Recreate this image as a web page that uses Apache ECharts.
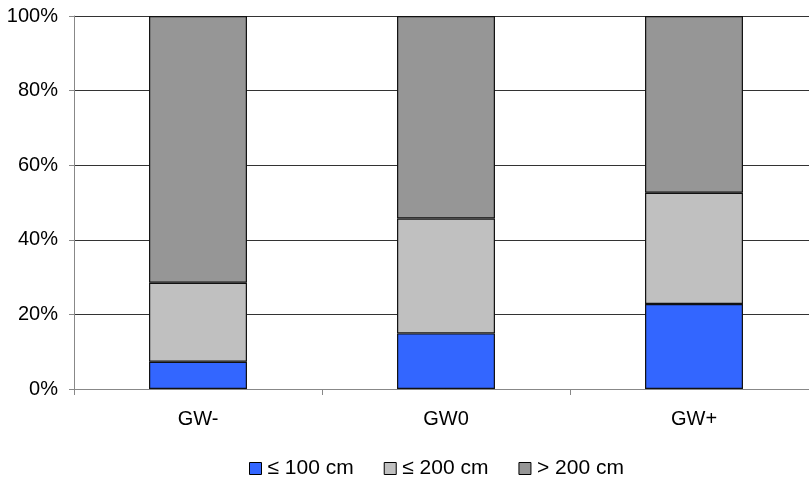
<!DOCTYPE html>
<html><head><meta charset="utf-8">
<script src="https://cdn.jsdelivr.net/npm/echarts@6/dist/echarts.min.js"></script>
<style>html,body{margin:0;padding:0;background:#fff;overflow:hidden;width:809px;height:478px}#c{width:818px;height:478px}</style>
</head><body><div id="c"></div>
<script>
const categories = ['GW-', 'GW0', 'GW+'];
const seriesNames = ['≤ 100 cm', '≤ 200 cm', '> 200 cm'];
const le100 = [7.3, 14.9, 22.8];
const le200 = [21.2, 30.8, 29.8];
const gt200 = [71.5, 54.3, 47.4];
const yTicks = [0, 20, 40, 60, 80, 100];
const colors = ['#3366FF', '#C0C0C0', '#969696'];

const chart = echarts.init(document.getElementById('c'), null, {renderer: 'canvas'});
const font = 'Liberation Sans, Arial, sans-serif';
const mk = (name, data, color) => ({
  name, type: 'bar', stack: 'total', data, barWidth: '39.5%',
  itemStyle: {color, borderColor: '#111', borderWidth: 1.2},
  emphasis: {disabled: true}
});
chart.setOption({
  animation: false,
  grid: {left: 74, right: 0, top: 16, height: 373, containLabel: false},
  legend: {
    left: 244, top: 453, itemWidth: 12, itemHeight: 12, itemGap: 30,
    icon: 'rect',
    textStyle: {fontFamily: font, fontSize: 21, color: '#000', padding: [0, 0, 0, 1]},
    itemStyle: {borderColor: '#000', borderWidth: 1},
    data: seriesNames
  },
  xAxis: {
    type: 'category', data: categories,
    axisLine: {lineStyle: {color: '#888'}},
    axisTick: {show: true, length: 6, lineStyle: {color: '#888'}},
    axisLabel: {fontFamily: font, fontSize: 20, color: '#000', margin: 20}
  },
  yAxis: {
    type: 'value', min: yTicks[0], max: yTicks[yTicks.length - 1], interval: 20,
    axisLine: {show: true, lineStyle: {color: '#888'}},
    axisTick: {show: true, length: 5, lineStyle: {color: '#888'}},
    splitLine: {lineStyle: {color: '#333', width: 1}},
    axisLabel: {fontFamily: font, fontSize: 20, color: '#000', margin: 16, formatter: '{value}%'}
  },
  series: [mk(seriesNames[0], le100, colors[0]), mk(seriesNames[1], le200, colors[1]), mk(seriesNames[2], gt200, colors[2])]
});
</script></body></html>
